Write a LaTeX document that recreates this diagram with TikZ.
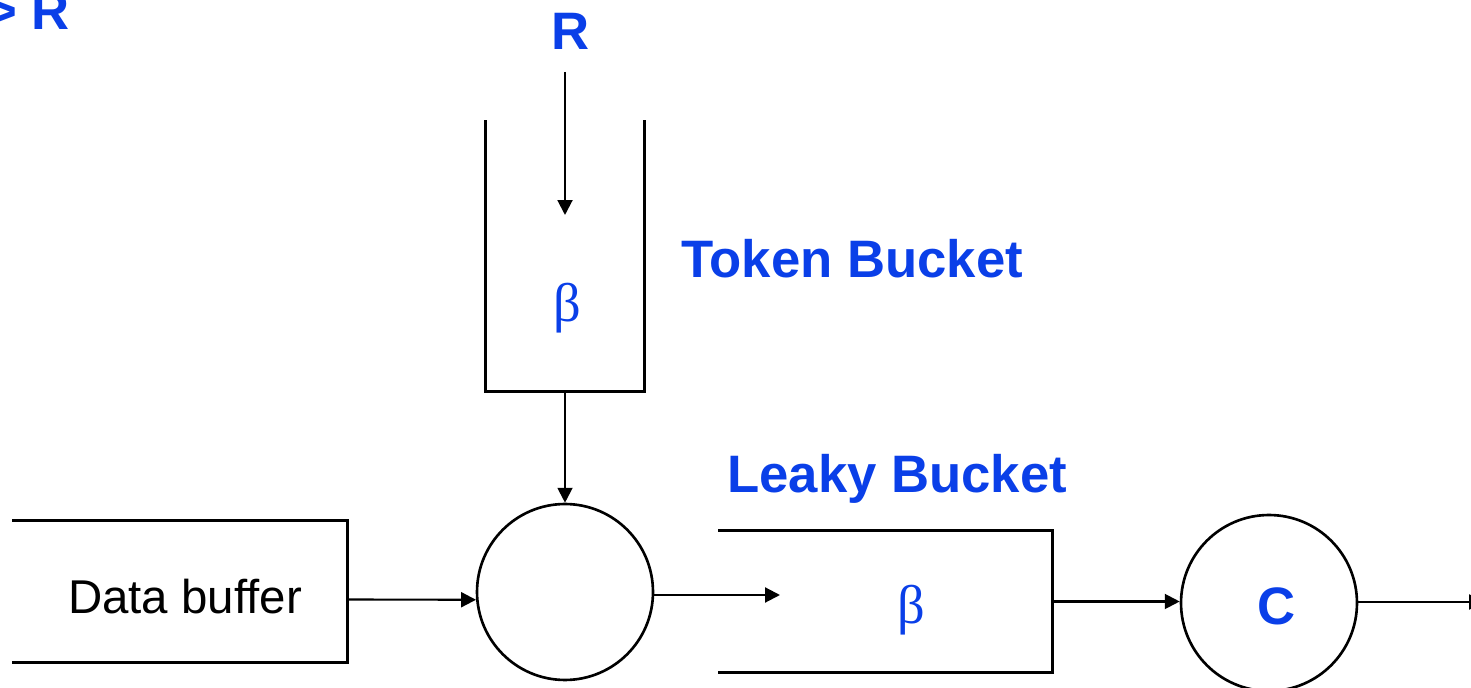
\documentclass[tikz,border=0pt]{standalone}
\usepackage{fontspec}
\setmainfont{Liberation Sans}
\newfontfamily\betafont{Liberation Serif}
\usetikzlibrary{arrows.meta,positioning,calc}
\definecolor{Label}{HTML}{0A3FE8}
\tikzset{
 wall/.style={line width=1.7pt,draw=black},
 tank/.style={inner sep=0pt,outer sep=0pt},
 server/.style={circle,draw=black,line width=1.5pt,minimum size=3.52cm,inner sep=0pt},
 lbl/.style={text=Label,font=\fontsize{30}{36}\selectfont\bfseries,inner sep=0pt},
 sym/.style={text=Label,font=\betafont\fontsize{31}{36}\selectfont,inner sep=0pt},
 plain/.style={font=\fontsize{27}{32}\selectfont,inner sep=0pt},
 arr/.style={-{Triangle[length=8.5pt,width=8.5pt]},line width=1.2pt}
}
\begin{document}
\begin{tikzpicture}[x=0.02cm,y=-0.02cm]
\useasboundingbox (0,0) rectangle (1471,688);
\clip (0,0) rectangle (1471,688);
% labels
\node[lbl,anchor=base east] (prev) at (70,30) {> R};
\node[lbl,anchor=base] (rate) at (571,50) {R};
\node[lbl,anchor=base west] (tbname) at (681,278) {Token Bucket};
\node[lbl,anchor=base west] (lbname) at (727,493) {Leaky Bucket};
% token bucket
\node[tank,minimum width=3.2cm,minimum height=5.44cm] (tb) at (565,256) {};
\draw[wall] (tb.north west) |- (tb.south east) -- (tb.north east);
\node[sym,anchor=base] (tbbeta) at (567,322) {β};
\coordinate (rateIn) at (565,72);
\coordinate (rateTip) at (565,215);
\draw[arr] (rateIn) -- (rateTip);
% data buffer
\node[tank,minimum width=6.72cm,minimum height=2.86cm] (buf) at (180,591.5) {};
\draw[wall] (buf.north west) -| (buf.south east) -- (buf.south west);
\node[plain,anchor=base] (bufname) at (185,614) {Data buffer};
% servers
\node[server] (mix) at (565,592) {};
\node[server] (out) at (1269,603) {};
\node[lbl,anchor=base] (cap) at (1277,625) {C};
% leaky bucket
\node[tank,minimum width=6.7cm,minimum height=2.86cm] (lb) at (885.5,601.5) {};
\draw[wall] (lb.north west) -| (lb.south east) -- (lb.south west);
\node[sym,anchor=base] (lbbeta) at (911,624) {β};
\coordinate (lbIn) at (780,595);
\coordinate (exit) at (1484,602);
% connectors
\draw[arr] (tb.south) -- (mix.north);
\draw[arr] ($(buf.east)+(0,8)$) -- (mix.185);
\draw[arr] (mix.east |- lbIn) -- (lbIn);
\draw[arr] (lb.east) -- (lb.east -| out.west);
\draw[arr] (out.east |- exit) -- (exit);
\end{tikzpicture}
\end{document}
